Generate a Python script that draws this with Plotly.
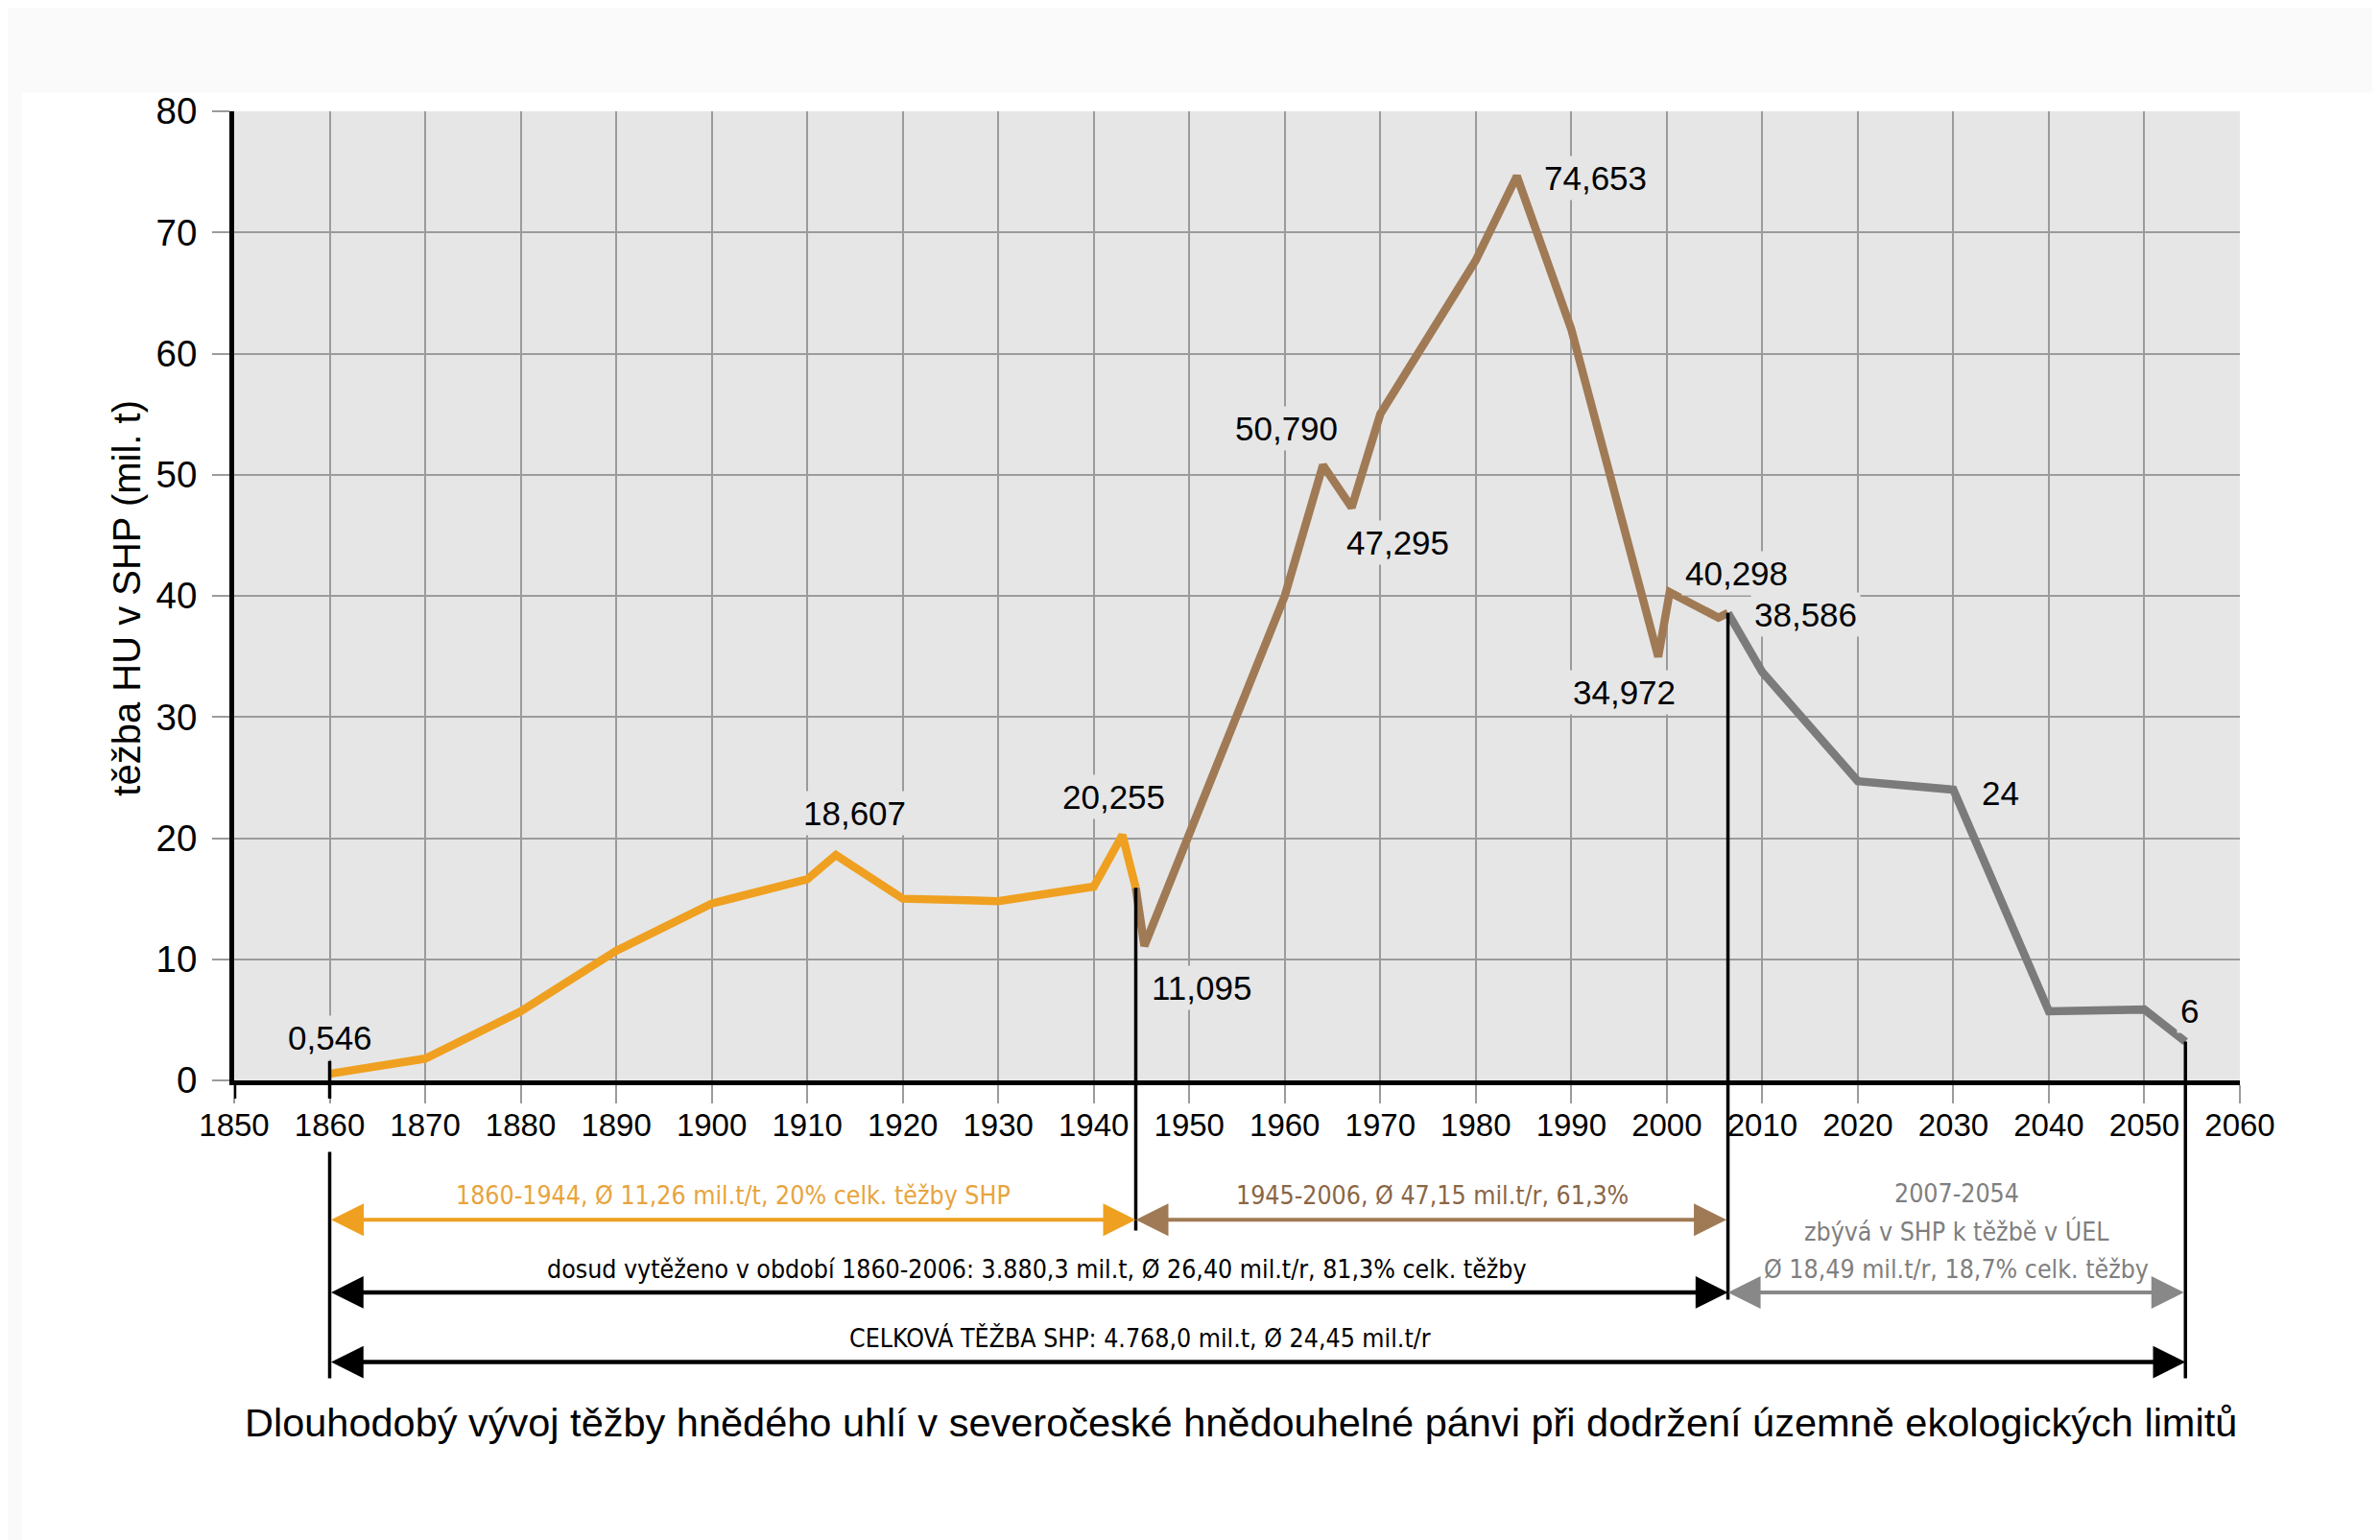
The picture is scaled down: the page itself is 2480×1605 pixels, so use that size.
import plotly.graph_objects as go

# ---------------- data ----------------
years_orange = [1860, 1870, 1880, 1890, 1900, 1910, 1913, 1920, 1930, 1940, 1943, 1944.4]
vals_orange = [0.546, 1.8, 5.7, 10.7, 14.6, 16.6, 18.607, 15.0, 14.8, 16.0, 20.255, 15.9]

years_brown = [1944.4, 1945.3, 1960, 1964, 1967, 1970, 1980, 1984.3, 1990, 1999.1, 2000.3, 2005.4, 2006.4]
vals_brown = [15.9, 11.095, 40.0, 50.79, 47.295, 55.0, 67.7, 74.653, 62.0, 34.972, 40.298, 38.2, 38.586]

years_gray = [2006.4, 2010, 2020, 2030, 2040, 2050, 2054.3]
vals_gray = [38.586, 33.7, 24.7, 24.0, 5.7, 5.85, 3.2]

x_ticks = list(range(1850, 2061, 10))
y_ticks = list(range(0, 81, 10))

# value labels: (series, index, text)
label_series = ["o", "o", "o", "b", "b", "b", "b", "b", "b", "b", "g", "g"]
label_index = [0, 6, 10, 1, 3, 4, 7, 9, 10, 12, 3, 6]
label_texts = ["0,546", "18,607", "20,255", "11,095", "50,790", "47,295",
               "74,653", "34,972", "40,298", "38,586", "24", "6"]
label_offsets = [(0, 38), (19, 44), (-9, 40), (60, -44), (-38, 38), (48, -37),
                 (82, -2), (-35, -37), (70, 20), (81, -2), (49, -3), (4, 32)]

# period boundaries
bounds = [1860, 1944.4, 2006.4, 2054.3]

period_texts = [
    "1860-1944, Ø 11,26 mil.t/t, 20% celk. těžby SHP",
    "1945-2006, Ø 47,15 mil.t/r, 61,3%",
    "dosud vytěženo v období 1860-2006: 3.880,3 mil.t, Ø 26,40 mil.t/r, 81,3% celk. těžby",
    "CELKOVÁ TĚŽBA SHP: 4.768,0 mil.t, Ø 24,45 mil.t/r",
]
future_texts = ["2007-2054", "zbývá v SHP k těžbě v ÚEL", "Ø 18,49 mil.t/r, 18,7% celk. těžby"]
y_title = "těžba HU v SHP (mil. t)"
main_title = "Dlouhodobý vývoj těžby hnědého uhlí v severočeské hnědouhelné pánvi při dodržení územně ekologických limitů"

# ---------------- style ----------------
C_OR = "#efa020"
C_BR = "#a07a55"
C_GR = "#7b7b7b"
C_OR_T = "#e8a43c"
C_BR_T = "#8a6646"
C_GR_T = "#7f7f7f"
GRID = "#9b9b9b"
FONT = "Liberation Sans, Arial, Helvetica, sans-serif"
NARROW = "Liberation Sans Narrow, Arial Narrow, DejaVu Sans Condensed, sans-serif"
NARROW_SIZE = 26.5

YMAX = 80.0


def py(v):
    # y data value -> paper fraction (domain [0,1], range [0, YMAX])
    return v / YMAX


fig = go.Figure()
for xs, ys, c in [(years_orange, vals_orange, C_OR), (years_brown, vals_brown, C_BR),
                  (years_gray, vals_gray, C_GR)]:
    fig.add_trace(go.Scatter(x=xs, y=ys, mode="lines", line=dict(color=c, width=8.5),
                             hoverinfo="skip"))

series = {"o": (years_orange, vals_orange), "b": (years_brown, vals_brown), "g": (years_gray, vals_gray)}
annotations = []
for s, i, t, (dx, dy) in zip(label_series, label_index, label_texts, label_offsets):
    xs, ys = series[s]
    annotations.append(dict(x=xs[i], y=ys[i], xref="x", yref="y", text=t, showarrow=False,
                            xshift=dx, yshift=dy, bgcolor="#e6e6e6", borderpad=3,
                            font=dict(family=FONT, size=35, color="black")))

shapes = []
# light outer border strips
shapes.append(dict(type="rect", xref="paper", yref="paper", x0=-0.2, x1=1.2, y0=1.0193, y1=1.2,
                   fillcolor="#fafafa", line=dict(width=0), layer="below"))
shapes.append(dict(type="rect", xref="paper", yref="paper", x0=-0.2, x1=-0.1058, y0=-0.6, y1=1.2,
                   fillcolor="#fafafa", line=dict(width=0), layer="below"))

# vertical marker lines
top_vals = [None, vals_orange[-1], vals_brown[-1], vals_gray[-1]]
bottom_vals = [-24.6, -12.4, -18.1, -24.6]
for b, tv, bv in zip(bounds, top_vals, bottom_vals):
    y0 = -5.9 if tv is None else tv
    shapes.append(dict(type="line", xref="x", yref="paper", x0=b, x1=b, y0=py(y0), y1=py(bv),
                       line=dict(color="black", width=3.5), layer="above"))
# short tick at 1860 crossing the axis
shapes.append(dict(type="line", xref="x", yref="paper", x0=bounds[0], x1=bounds[0], y0=py(1.6), y1=py(-1.5),
                   line=dict(color="black", width=3.5), layer="above"))
# black tick at 1850 (axis extension)
shapes.append(dict(type="line", xref="x", yref="paper", x0=1850, x1=1850, y0=py(0), y1=py(-1.5),
                   line=dict(color="black", width=4.5), layer="above"))


def arrow(x0, x1, v, color, width=4, size=1.7):
    return dict(x=x1, y=py(v), ax=x0, ay=0, xref="x", yref="paper", axref="x", ayref="pixel",
                text="", showarrow=True, arrowhead=2, startarrowhead=2, arrowside="end+start",
                arrowsize=size, startarrowsize=size, arrowwidth=width, arrowcolor=color,
                standoff=0, startstandoff=0)


annotations += [
    arrow(bounds[0], bounds[1], -11.5, C_OR),
    arrow(bounds[2], bounds[1], -11.5, C_BR),
    arrow(bounds[0], bounds[2], -17.5, "black", 4.5, 1.5),
    arrow(bounds[3], bounds[2], -17.5, "#888888"),
    arrow(bounds[0], bounds[3], -23.25, "black", 4.5, 1.5),
]


def txt(x, v, t, color, size=NARROW_SIZE, fam=NARROW, xref="x"):
    return dict(x=x, y=py(v), xref=xref, yref="paper", text=t, showarrow=False, xanchor="center",
                yanchor="middle", font=dict(family=fam, size=size, color=color))


annotations += [
    txt((bounds[0] + bounds[1]) / 2, -9.5, period_texts[0], C_OR_T),
    txt((bounds[1] + bounds[2]) / 2, -9.5, period_texts[1], C_BR_T),
    txt(1934.0, -15.6, period_texts[2], "black"),
    txt(1944.9, -21.3, period_texts[3], "black"),
    txt((bounds[2] + bounds[3]) / 2, -9.3, future_texts[0], C_GR_T),
    txt((bounds[2] + bounds[3]) / 2, -12.5, future_texts[1], C_GR_T),
    txt((bounds[2] + bounds[3]) / 2, -15.6, future_texts[2], C_GR_T),
    txt(0.502, -28.2, main_title, "black", 41.5, FONT, "paper"),
]
annotations.append(dict(x=-0.054, y=py(39.8), xref="paper", yref="paper", text=y_title, textangle=-90,
                        showarrow=False, xanchor="center", yanchor="middle",
                        font=dict(family=FONT, size=40, color="black")))

fig.update_layout(
    width=2480, height=1605,
    margin=dict(l=236, r=154, t=108, b=487),
    plot_bgcolor="#e6e6e6", paper_bgcolor="white",
    showlegend=False,
    xaxis=dict(range=[1850, 2060], tickvals=x_ticks, ticktext=[str(v) for v in x_ticks],
               showgrid=True, gridcolor=GRID, gridwidth=2, ticks="outside", ticklen=19,
               tickwidth=2, tickcolor=GRID, showline=True, linecolor="black", linewidth=5,
               zeroline=False, ticklabelstandoff=-6,
               tickfont=dict(family=FONT, size=33, color="black")),
    yaxis=dict(range=[0, YMAX], tickvals=y_ticks, ticktext=[str(v) for v in y_ticks],
               showgrid=True, gridcolor=GRID, gridwidth=2, ticks="outside", ticklen=18,
               tickwidth=2, tickcolor=GRID, showline=True, linecolor="black", linewidth=5,
               zeroline=False, ticklabelstandoff=8,
               tickfont=dict(family=FONT, size=38.5, color="black")),
    annotations=annotations,
    shapes=shapes,
)

fig.write_html("out.html")
